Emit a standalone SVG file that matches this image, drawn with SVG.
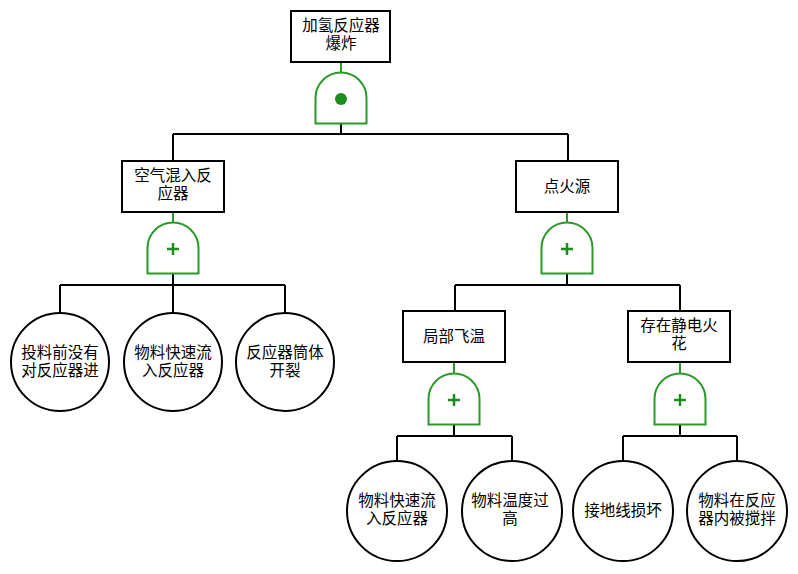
<svg xmlns="http://www.w3.org/2000/svg" width="798" height="574" viewBox="0 0 798 574">
<style>
.box{fill:#fff;stroke:#000;stroke-width:2}
.ev{fill:#fff;stroke:#000;stroke-width:2}
.gate{fill:#fff;stroke:#2a9a2a;stroke-width:2}
.gl{stroke:#2a9a2a;stroke-width:2}
.sym{stroke:#1e8c1e;stroke-width:2.5;fill:none}
.c{fill:none;stroke:#000;stroke-width:2}
text{font-family:"Noto Sans CJK SC","Noto Sans",sans-serif;font-size:15.5px;fill:#000;text-anchor:middle}
</style>
<rect width="798" height="574" fill="#fff"/>
<defs>
<path id="g" d="M-25.5,25.5 V0 A25.5,25.5 0 0 1 25.5,0 V25.5 Z"/>
</defs>
<g id="connectors">
<path class="c" d="M341,123 V134 M173,134 H568 M173,134 V161 M568,134 V161"/>
<path class="c" d="M173,273 V285 M60,285 H285 M60,285 V313 M173,285 V313 M285,285 V313"/>
<path class="c" d="M567,273 V285 M455,285 H680 M455,285 V311 M680,285 V311"/>
<path class="c" d="M454,424 V436 M397,436 H512 M397,436 V461 M512,436 V461"/>
<path class="c" d="M680,424 V436 M623,436 H737 M623,436 V461 M737,436 V461"/>
<path class="gl" d="M341,62 V73 M173,212 V223 M567,212 V223 M454,362 V374 M680,362 V374"/>
</g>
<g id="top">
<rect class="box" x="291" y="11" width="99" height="51"/>
<text x="341" y="31">加氢反应器<tspan x="341" dy="18">爆炸</tspan></text>
</g>
<g id="gate-top">
<use href="#g" class="gate" transform="translate(341,98)"/>
<circle cx="341" cy="99" r="6" fill="#1e8c1e"/>
</g>
<g id="air">
<rect class="box" x="122" y="161" width="102" height="51"/>
<text x="173" y="181">空气混入反<tspan x="173" dy="18">应器</tspan></text>
</g>
<g id="gate-air">
<use href="#g" class="gate" transform="translate(173,248)"/>
<path class="sym" d="M167,249 H179 M173,243 V255"/>
</g>
<g id="ign">
<rect class="box" x="516" y="161" width="102" height="51"/>
<text x="567" y="192">点火源</text>
</g>
<g id="gate-ign">
<use href="#g" class="gate" transform="translate(567,248)"/>
<path class="sym" d="M561,249 H573 M567,243 V255"/>
</g>
<g id="e1">
<circle class="ev" cx="60" cy="362" r="49"/>
<text x="60" y="358">投料前没有<tspan x="60" dy="18">对反应器进</tspan></text>
</g>
<g id="e2">
<circle class="ev" cx="173" cy="362" r="49"/>
<text x="173" y="358">物料快速流<tspan x="173" dy="18">入反应器</tspan></text>
</g>
<g id="e3">
<circle class="ev" cx="285" cy="362" r="49"/>
<text x="285" y="358">反应器筒体<tspan x="285" dy="18">开裂</tspan></text>
</g>
<g id="local">
<rect class="box" x="403" y="311" width="102" height="51"/>
<text x="454" y="342">局部飞温</text>
</g>
<g id="gate-local">
<use href="#g" class="gate" transform="translate(454,399)"/>
<path class="sym" d="M448,400 H460 M454,394 V406"/>
</g>
<g id="static">
<rect class="box" x="628" y="311" width="102" height="51"/>
<text x="679" y="331">存在静电火<tspan x="679" dy="18">花</tspan></text>
</g>
<g id="gate-static">
<use href="#g" class="gate" transform="translate(680,399)"/>
<path class="sym" d="M674,400 H686 M680,394 V406"/>
</g>
<g id="e4">
<circle class="ev" cx="397" cy="511" r="50"/>
<text x="397" y="506">物料快速流<tspan x="397" dy="18">入反应器</tspan></text>
</g>
<g id="e5">
<circle class="ev" cx="512" cy="511" r="50"/>
<text x="510" y="506">物料温度过<tspan x="510" dy="18">高</tspan></text>
</g>
<g id="e6">
<circle class="ev" cx="623" cy="511" r="50"/>
<text x="623" y="516">接地线损坏</text>
</g>
<g id="e7">
<circle class="ev" cx="737" cy="511" r="50"/>
<text x="737" y="506">物料在反应<tspan x="737" dy="18">器内被搅拌</tspan></text>
</g>
</svg>
